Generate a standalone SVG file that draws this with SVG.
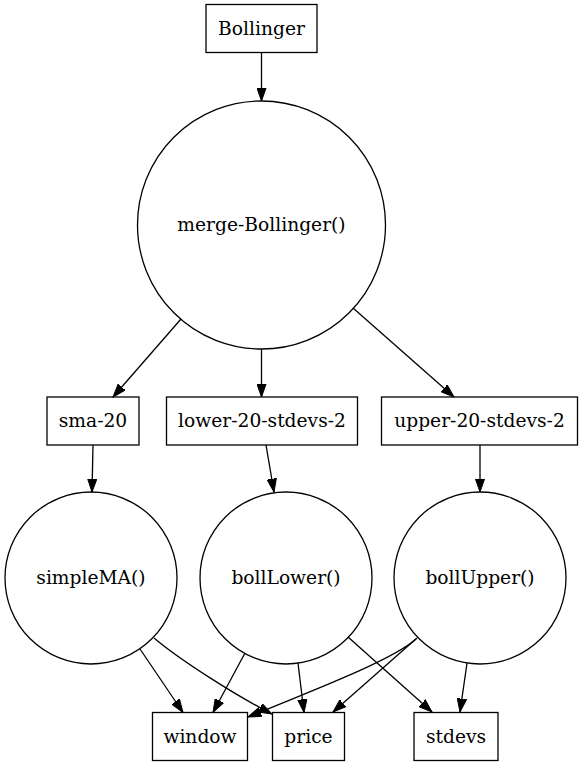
<svg xmlns="http://www.w3.org/2000/svg" width="582" height="766" viewBox="0 0 582 766">
<style>
.n{fill:none;stroke:#000;stroke-width:1.3}
.e{fill:none;stroke:#000;stroke-width:1.3}
text{font-family:"DejaVu Serif","Liberation Serif",serif;font-size:18.67px;text-anchor:middle;fill:#000}
</style>
<defs>
<marker id="a" markerWidth="14" markerHeight="10" refX="13.3" refY="5" orient="auto" markerUnits="userSpaceOnUse">
<path d="M0,0.33 L13.3,5 L0,9.67 Z" fill="#000" stroke="#000" stroke-width="1"/>
</marker>
</defs>
<rect width="582" height="766" fill="#fff"/>
<g id="edges">
<path class="e" marker-end="url(#a)" d="M261.5,52.5 L261.5,101"/>
<path class="e" marker-end="url(#a)" d="M181,319 L113,397"/>
<path class="e" marker-end="url(#a)" d="M261.5,349 L261.5,397"/>
<path class="e" marker-end="url(#a)" d="M353,308 L454,397"/>
<path class="e" marker-end="url(#a)" d="M93,445 L92,492"/>
<path class="e" marker-end="url(#a)" d="M266,445 L274,492"/>
<path class="e" marker-end="url(#a)" d="M480,445 L480,492"/>
<path class="e" marker-end="url(#a)" d="M140,649 L183,712.5"/>
<path class="e" marker-end="url(#a)" d="M154,638 C180,660 235,695 272,714"/>
<path class="e" marker-end="url(#a)" d="M245,653 L213,712.5"/>
<path class="e" marker-end="url(#a)" d="M298,663 L304,712.5"/>
<path class="e" marker-end="url(#a)" d="M348,637 L432,712"/>
<path class="e" marker-end="url(#a)" d="M416,639 C396,657 340,680 248,717"/>
<path class="e" marker-end="url(#a)" d="M417,638 L333,712"/>
<path class="e" marker-end="url(#a)" d="M467,663 L460,712"/>
</g>
<g id="Bollinger"><rect class="n" x="206" y="4.5" width="111" height="48"/><text x="261.5" y="34.5">Bollinger</text></g>
<g id="merge-Bollinger"><circle class="n" cx="261.5" cy="225" r="124"/><text x="261.5" y="231">merge-Bollinger()</text></g>
<g id="sma-20"><rect class="n" x="47" y="397" width="92" height="48"/><text x="93" y="427">sma-20</text></g>
<g id="lower-20-stdevs-2"><rect class="n" x="166.5" y="397" width="191" height="48"/><text x="262" y="427">lower-20-stdevs-2</text></g>
<g id="upper-20-stdevs-2"><rect class="n" x="381.5" y="397" width="196" height="48"/><text x="479.5" y="427">upper-20-stdevs-2</text></g>
<g id="simpleMA"><circle class="n" cx="91" cy="578" r="86"/><text x="91" y="584">simpleMA()</text></g>
<g id="bollLower"><circle class="n" cx="286" cy="578" r="86"/><text x="286" y="584">bollLower()</text></g>
<g id="bollUpper"><circle class="n" cx="480" cy="578" r="86"/><text x="480" y="584">bollUpper()</text></g>
<g id="window"><rect class="n" x="152.5" y="712.5" width="95" height="48"/><text x="200" y="742.5">window</text></g>
<g id="price"><rect class="n" x="272.5" y="712.5" width="72" height="48"/><text x="308.5" y="742.5">price</text></g>
<g id="stdevs"><rect class="n" x="414" y="712.5" width="84" height="48"/><text x="456" y="742.5">stdevs</text></g>
</svg>
